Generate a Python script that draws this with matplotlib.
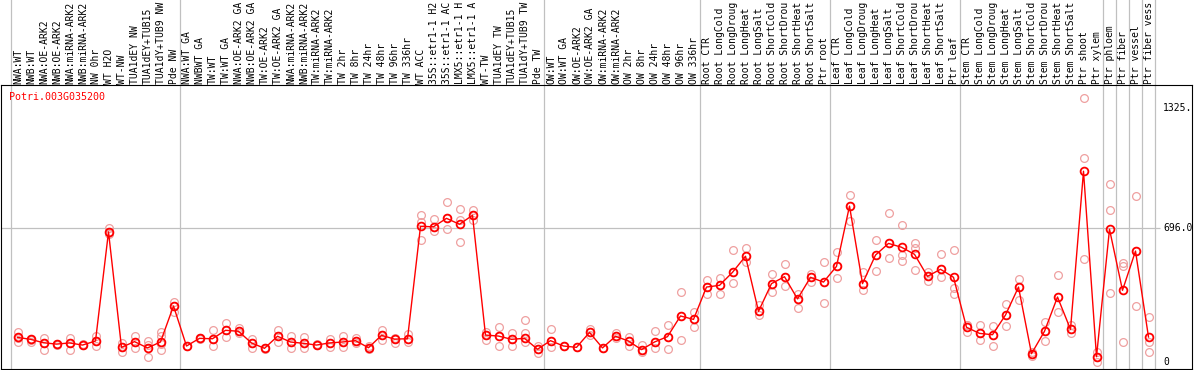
import matplotlib
matplotlib.use("Agg")
import matplotlib.pyplot as plt
import matplotlib.transforms as mtransforms

gene = "Potri.003G035200"

# sample names as they appear (cut short by the top edge in the original)
samples = [
    "NWA:WT", "NWB:WT", "NWA:OE-ARK2", "NWB:OE-ARK2", "NWA:miRNA-ARK2",
    "NWB:miRNA-ARK2", "NW 0hr", "WT H2O", "WT-NW", "TUA1dEY NW",
    "TUA1dEY+TUB15", "TUA1dY+TUB9 NW", "Pde NW",
    "NWA:WT GA", "NWBWT GA", "TW:WT", "TW:WT GA", "NWA:OE-ARK2 GA",
    "NWB:OE-ARK2 GA", "TW:OE-ARK2", "TW:OE-ARK2 GA", "NWA:miRNA-ARK2",
    "NWB:miRNA-ARK2", "TW:miRNA-ARK2", "TW:miRNA-ARK2", "TW 2hr", "TW 8hr",
    "TW 24hr", "TW 48hr", "TW 96hr", "TW 336hr", "WT ACC",
    "35S::etr1-1 H2", "35S::etr1-1 AC", "LMX5::etr1-1 H",
    "LMX5::etr1-1 A", "WT-TW", "TUA1dEY TW", "TUA1dEY+TUB15",
    "TUA1dY+TUB9 TW", "Pde TW",
    "OW:WT", "OW:WT GA", "OW:OE-ARK2", "OW:OE-ARK2 GA", "OW:miRNA-ARK2",
    "OW:miRNA-ARK2", "OW 2hr", "OW 8hr", "OW 24hr", "OW 48hr", "OW 96hr",
    "OW 336hr",
    "Root CTR", "Root LongCold", "Root LongDroug", "Root LongHeat",
    "Root LongSalt", "Root ShortCold", "Root ShortDrou", "Root ShortHeat",
    "Root ShortSalt", "Ptr root",
    "Leaf CTR", "Leaf LongCold", "Leaf LongDroug", "Leaf LongHeat",
    "Leaf LongSalt", "Leaf ShortCold", "Leaf ShortDrou", "Leaf ShortHeat",
    "Leaf ShortSalt", "Ptr leaf",
    "Stem CTR", "Stem LongCold", "Stem LongDroug", "Stem LongHeat",
    "Stem LongSalt", "Stem ShortCold", "Stem ShortDrou", "Stem ShortHeat",
    "Stem ShortSalt", "Ptr shoot", "Ptr xylem",
    "Ptr phloem", "Ptr fiber", "Ptr vessel", "Ptr fiber vess",
]

means = [
    127, 117, 99, 92, 98, 87, 108, 678, 75, 105, 72, 103, 291,
    82, 122, 120, 164, 159, 98, 70, 133, 103, 96, 87, 98, 103, 110, 73,
    138, 118, 120, 707, 705, 749, 718, 765, 139, 134, 117, 122, 65,
    110, 82, 75, 153, 72, 133, 108, 63, 103, 131, 239, 221,
    390, 399, 467, 551, 263, 408, 444, 328, 441, 416,
    498, 813, 408, 557, 618, 598, 561, 446, 483, 441,
    180, 148, 141, 244, 390, 42, 159, 338, 169, 995, 26,
    692, 373, 578, 129,
]

replicates = [
    [155, 103, 123], [120, 105, 112], [125, 63, 100], [92, 95, 88],
    [125, 63, 98], [87, 85, 90], [136, 82, 108], [701, 665, 675],
    [99, 51, 75], [136, 70, 105], [108, 23, 85], [157, 134, 61, 90],
    [313, 261, 290],
    [82, 80], [122, 118, 126], [164, 80, 120], [204, 127, 164],
    [174, 159, 150], [118, 70, 98], [70, 68, 72], [165, 101, 133],
    [136, 70, 103], [127, 70, 96], [87, 85, 90], [118, 78, 98],
    [136, 78, 103], [125, 110, 100], [82, 73, 65], [164, 112, 138],
    [118, 100, 125], [143, 101, 120], [768, 728, 634], [744, 684, 705],
    [834, 693, 749], [796, 740, 624], [794, 739, 765], [154, 112, 139],
    [181, 80, 134], [152, 80, 117], [216, 150, 105], [82, 47, 65],
    [169, 75, 110], [82, 80], [75, 78], [171, 139, 153], [72, 70],
    [148, 122, 133], [131, 84, 108], [86, 52, 63], [159, 73, 103],
    [192, 68, 131], [363, 112, 239], [260, 180, 221],
    [425, 352, 390], [437, 355, 399], [582, 410, 467], [592, 521, 551],
    [296, 244, 263], [457, 363, 408], [509, 394, 444], [352, 279, 328],
    [460, 418, 441], [521, 305, 416],
    [572, 436, 498], [869, 735, 813], [467, 373, 408], [634, 474, 557],
    [777, 540, 618], [714, 557, 526], [620, 594, 478], [470, 423, 446],
    [561, 444, 483], [585, 384, 352],
    [157, 192, 190], [192, 112, 148], [185, 80, 141], [300, 185, 244],
    [430, 321, 390], [52, 28, 42], [206, 110, 159], [451, 261, 338],
    [192, 148, 169], [1376, 1064, 535], [52, 0, 26],
    [927, 791, 357], [514, 502, 103], [864, 289, 578], [232, 104, 49],
]

# group boundaries (index of first sample after a separator)
separators = [0, 13, 41, 53, 63, 73, 84, 85, 86, 87, 88]
y_ticks = [0, 696, 1325]
y_tick_labels = ["0", "696.0", "1325."]

W, H = 1194, 370
fig = plt.figure(figsize=(W / 100, H / 100), dpi=100)
ax = fig.add_axes([1 / W, 1 / H, 1191 / W, 284 / H])

font = {"family": "DejaVu Sans Mono", "size": 7.0}
title_font = {"family": "DejaVu Sans Mono", "size": 7.2}
rep_color = "#EFA0A0"

x = list(range(len(means)))
for i, vals in enumerate(replicates):
    ax.plot([i] * len(vals), vals, linestyle="none", marker="o", ms=5.6,
            mfc="none", mec=rep_color, mew=0.9, zorder=3)
ax.plot(x, means, color="red", lw=1.0, marker="o", ms=5.6, mfc="none",
        mec="red", mew=1.3, zorder=4)

ax.set_xlim((1 - 17.5) / 13, (1192 - 17.5) / 13)
ax.set_ylim(-38.1, 1445.6)

# grid lines: vertical ones run up through the label area
for s in separators:
    ax.axvline(s - 0.5, ymin=0, ymax=1 + 85 / 284, color="#C0C0C0", lw=0.9,
               clip_on=False, zorder=1)
ax.hlines(696, (1 - 17.5) / 13, (1160 - 17.5) / 13, color="#C0C0C0",
          lw=0.9, zorder=1)

ax.set_xticks([])
ax.set_yticks([])
for sp in ax.spines.values():
    sp.set_linewidth(0.8)
    sp.set_color("black")

trans = mtransforms.blended_transform_factory(ax.transData, fig.transFigure)
for i, name in enumerate(samples):
    fig.text(i + 0.04, (H - 84) / H, name, transform=trans, rotation=90,
             ha="center", va="bottom", fontdict=font)

tick_trans = mtransforms.blended_transform_factory(fig.transFigure, ax.transData)
for v, lab in zip(y_ticks, y_tick_labels):
    fig.text(1163 / W, v, lab, transform=tick_trans, ha="left", va="center",
             fontdict=font, color="black")

ax.text(8 / 1191, 1 - 12.5 / 284, gene, transform=ax.transAxes,
        ha="left", va="center", color="red", fontdict=title_font)

fig.savefig("out.png", dpi=100)
